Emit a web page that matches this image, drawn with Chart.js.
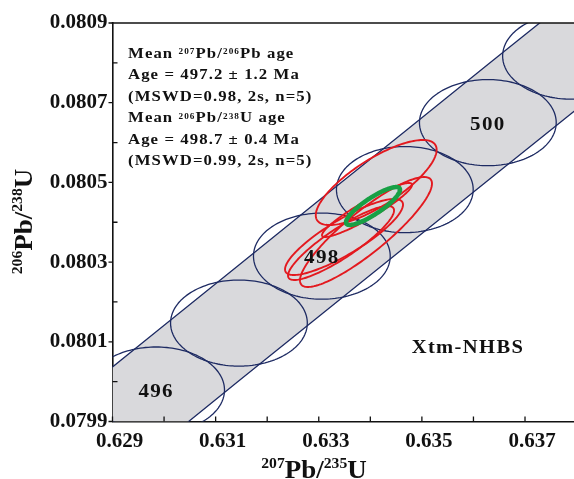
<!DOCTYPE html>
<html>
<head>
<meta charset="utf-8">
<title>Xtm-NHBS concordia</title>
<script src="https://cdn.jsdelivr.net/npm/chart.js@4.4.1/dist/chart.umd.min.js"></script>
<style>
  html, body { margin: 0; padding: 0; background: #fff; }
  #grafico { display: block; }
</style>
</head>
<body>
<canvas id="grafico" width="574" height="479"></canvas>
<script>
// concordia age markers (Ma) and their 207Pb/235U, 206Pb/238U ratios
const markerAges = [495, 496, 497, 498, 499, 500, 501, 502];
const concordiaX = [0.628242, 0.629846, 0.631452, 0.633060, 0.634669, 0.636279, 0.637892, 0.639505];
const concordiaY = [0.079812, 0.079979, 0.080147, 0.080315, 0.080482, 0.080650, 0.080817, 0.080985];
const labeledAges = [496, 498, 500];

// decay-constant error band edges (same x as concordiaX)
const bandUpperY = [0.079958, 0.080125, 0.080293, 0.080461, 0.080628, 0.080796, 0.080963, 0.081131];
const bandLowerY = [0.079667, 0.079834, 0.080002, 0.080170, 0.080337, 0.080505, 0.080672, 0.080840];

// marker ellipse half-widths (2s)
const markerSx = 0.001326;
const markerSy = 0.000108;

// analyses (2s ellipses)
const spotX   = [0.634114, 0.633916, 0.633490, 0.633432, 0.633936];
const spotY   = [0.0804997, 0.0803755, 0.0803630, 0.0803479, 0.0804307];
const spotSx  = [0.001172, 0.001280, 0.001144, 0.001028, 0.000873];
const spotSy  = [0.0001067, 0.0001380, 0.0000954, 0.0000928, 0.0000678];
const spotRho = [0.77, 0.88, 0.85, 0.88, 0.93];

// weighted mean ellipse
const meanX = 0.634052, meanY = 0.0804408, meanSx = 0.000524, meanSy = 0.0000475, meanRho = 0.86;

// axes
const xTickValues = [0.629, 0.630, 0.631, 0.632, 0.633, 0.634, 0.635, 0.636, 0.637];
const xTickLabels = ["0.629", "", "0.631", "", "0.633", "", "0.635", "", "0.637"];
const yTickValues = [0.0799, 0.0800, 0.0801, 0.0802, 0.0803, 0.0804, 0.0805, 0.0806, 0.0807, 0.0808, 0.0809];
const yTickLabels = ["0.0799", "", "0.0801", "", "0.0803", "", "0.0805", "", "0.0807", "", "0.0809"];

const infoLines = [
  [["Mean ", 0], ["207", 1], ["Pb/", 0], ["206", 1], ["Pb age", 0]],
  [["Age = 497.2 \u00b1 1.2 Ma", 0]],
  [["(MSWD=0.98, 2s, n=5)", 0]],
  [["Mean ", 0], ["206", 1], ["Pb/", 0], ["238", 1], ["U age", 0]],
  [["Age = 498.7 \u00b1 0.4 Ma", 0]],
  [["(MSWD=0.99, 2s, n=5)", 0]]
];
const sampleName = "Xtm-NHBS";
const xTitle = [["207", 1], ["Pb/", 0], ["235", 1], ["U", 0]];
const yTitle = [["206", 1], ["Pb/", 0], ["238", 1], ["U", 0]];

(function () {
  const SERIF = "'Liberation Serif', 'Times New Roman', serif";
  const STRETCH = 1.08;
  const NAVY = "#1e2b63";
  const RED = "#e3191f";
  const GREEN = "#18a045";
  const INK = "#111";

  const fontStr = (size) => `bold ${size}px ${SERIF}`;

  // texto com sobrescritos; runs = [[texto, sup], ...]
  function drawRich(ctx, runs, x, y, size, opts) {
    const o = Object.assign({ align: "left", spacing: 0, supScale: 0.58, supRaise: 0.4, angle: 0 }, opts || {});
    ctx.save();
    ctx.translate(x, y);
    if (o.angle) ctx.rotate(o.angle);
    ctx.scale(STRETCH, 1);
    ctx.letterSpacing = o.spacing + "px";
    ctx.textBaseline = "alphabetic";
    ctx.textAlign = "left";
    const widths = runs.map(([t, sup]) => {
      ctx.font = fontStr(sup ? size * o.supScale : size);
      return ctx.measureText(t).width;
    });
    const total = widths.reduce((s, w) => s + w, 0);
    let cx = o.align === "center" ? -total / 2 : 0;
    runs.forEach(([t, sup], i) => {
      ctx.font = fontStr(sup ? size * o.supScale : size);
      ctx.fillText(t, cx, sup ? -size * o.supRaise : 0);
      cx += widths[i];
    });
    ctx.restore();
  }

  function tracarElipse(ctx, xs, ys, cx, cy, sx, sy, rho) {
    const k = Math.sqrt(1 - rho * rho);
    const n = 160;
    ctx.beginPath();
    for (let i = 0; i <= n; i++) {
      const a = (i / n) * Math.PI * 2;
      const px = xs.getPixelForValue(cx + sx * Math.cos(a));
      const py = ys.getPixelForValue(cy + sy * (rho * Math.cos(a) + k * Math.sin(a)));
      if (i === 0) ctx.moveTo(px, py); else ctx.lineTo(px, py);
    }
    ctx.closePath();
    ctx.stroke();
  }

  const concordiaPlugin = {
    id: "concordia",
    afterDatasetsDraw(chart) {
      const { ctx, chartArea: a, scales: { x, y } } = chart;
      ctx.save();
      ctx.beginPath();
      ctx.rect(a.left, a.top, a.right - a.left, a.bottom - a.top);
      ctx.clip();
      ctx.lineJoin = "round";

      ctx.strokeStyle = NAVY;
      ctx.lineWidth = 1.3;
      markerAges.forEach((t, i) => tracarElipse(ctx, x, y, concordiaX[i], concordiaY[i], markerSx, markerSy, 0));

      ctx.strokeStyle = RED;
      ctx.lineWidth = 1.9;
      spotX.forEach((v, i) => tracarElipse(ctx, x, y, v, spotY[i], spotSx[i], spotSy[i], spotRho[i]));

      ctx.strokeStyle = GREEN;
      ctx.lineWidth = 4.5;
      tracarElipse(ctx, x, y, meanX, meanY, meanSx, meanSy, meanRho);

      ctx.fillStyle = INK;
      labeledAges.forEach(t => {
        const i = markerAges.indexOf(t);
        drawRich(ctx, [[String(t), 0]], x.getPixelForValue(concordiaX[i]), y.getPixelForValue(concordiaY[i]) + 7,
          19.5, { align: "center", spacing: 1.2 });
      });
      ctx.restore();
    },
    afterDraw(chart) {
      const { ctx, chartArea: a, scales: { x, y } } = chart;
      ctx.save();
      ctx.strokeStyle = INK;
      ctx.lineWidth = 1.6;
      ctx.beginPath();
      ctx.moveTo(a.left - 0.8, a.top);
      ctx.lineTo(a.right, a.top);
      ctx.stroke();

      // marcas dos eixos
      ctx.lineWidth = 1.3;
      ctx.beginPath();
      xTickValues.forEach(v => {
        const px = x.getPixelForValue(v);
        ctx.moveTo(px, a.bottom);
        ctx.lineTo(px, a.bottom - 5);
      });
      yTickValues.forEach((v, i) => {
        const py = y.getPixelForValue(v);
        ctx.moveTo(a.left, py);
        ctx.lineTo(yTickLabels[i] ? a.left - 4 : a.left + 5, py);
      });
      ctx.stroke();

      ctx.fillStyle = INK;
      infoLines.forEach((runs, i) => {
        drawRich(ctx, runs, a.left + 15.5, a.top + 34.5 + i * 21.5, 15.5,
          { spacing: 1.0, supScale: 0.55, supRaise: 0.2 });
      });
      drawRich(ctx, [[sampleName, 0]], 468, 352.5, 19, { align: "center", spacing: 1.3 });
      drawRich(ctx, xTitle, 314, 478, 25, { align: "center" });
      drawRich(ctx, yTitle, 32, 221.5, 25, { align: "center", angle: -Math.PI / 2 });
      ctx.restore();
    }
  };

  const tickFont = { family: SERIF, weight: "bold", size: 21 };

  new Chart(document.getElementById("grafico"), {
    type: "scatter",
    data: {
      datasets: [
        {
          data: concordiaX.map((v, i) => ({ x: v, y: bandLowerY[i] })),
          showLine: true, borderColor: NAVY, borderWidth: 1.3, pointRadius: 0, fill: false, clip: 0
        },
        {
          data: concordiaX.map((v, i) => ({ x: v, y: bandUpperY[i] })),
          showLine: true, borderColor: NAVY, borderWidth: 1.3, pointRadius: 0,
          fill: "-1", backgroundColor: "#d9d9dc", clip: 0
        }
      ]
    },
    options: {
      responsive: false,
      animation: false,
      devicePixelRatio: 1,
      layout: { padding: { top: 23, right: 0, left: 0, bottom: 0 } },
      plugins: { legend: { display: false }, tooltip: { enabled: false } },
      scales: {
        x: {
          type: "linear", min: 0.629, max: 0.63795,
          afterBuildTicks: s => { s.ticks = xTickValues.map(v => ({ value: v })); },
          afterFit: s => { s.height = 57.5; },
          grid: { display: false, drawTicks: false },
          border: { display: true, color: INK, width: 1.6 },
          ticks: {
            callback: (v, i) => xTickLabels[i], font: tickFont, color: INK,
            padding: 7, labelOffset: 7, maxRotation: 0, autoSkip: false, includeBounds: false
          }
        },
        y: {
          type: "linear", min: 0.0799, max: 0.0809,
          afterBuildTicks: s => { s.ticks = yTickValues.map(v => ({ value: v })); },
          afterFit: s => { s.width = 112.5; },
          grid: { display: false, drawTicks: false },
          border: { display: true, color: INK, width: 1.6 },
          ticks: {
            callback: (v, i) => yTickLabels[i], font: tickFont, color: INK,
            padding: 5, autoSkip: false, includeBounds: false
          }
        }
      }
    },
    plugins: [concordiaPlugin]
  });
})();
</script>
</body>
</html>
